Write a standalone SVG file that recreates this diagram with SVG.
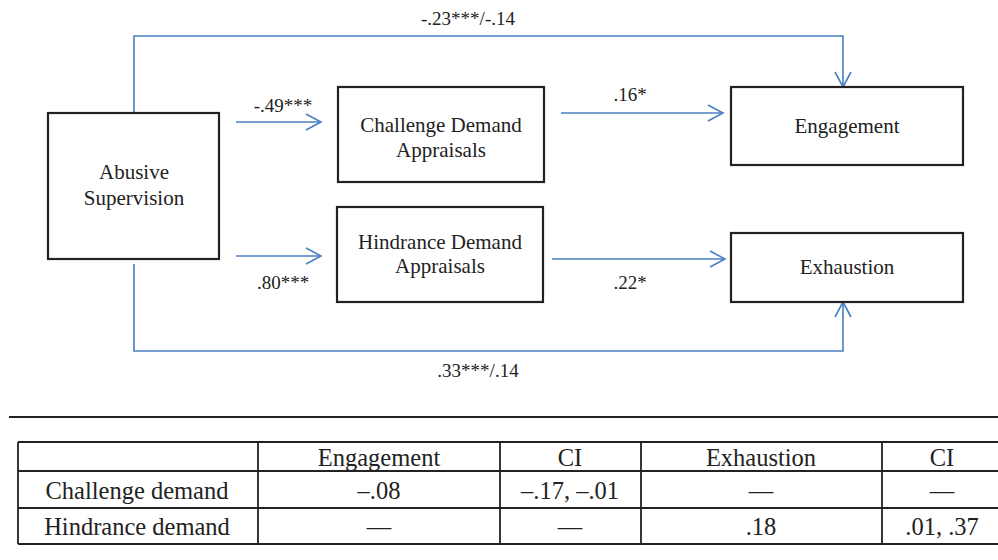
<svg xmlns="http://www.w3.org/2000/svg" width="998" height="560" viewBox="0 0 998 560">
<style>
  .box{fill:#fff;stroke:#222;stroke-width:2.2}
  .nt{font-family:"Liberation Serif","Times New Roman",serif;font-size:21px;fill:#222;text-anchor:middle}
  .lb{font-family:"Liberation Serif","Times New Roman",serif;font-size:19px;fill:#222;text-anchor:middle}
  .cn{fill:none;stroke:#4a7fc1;stroke-width:1.6}
  .tl{stroke:#222;stroke-width:1.8;fill:none}
  .tt{font-family:"Liberation Serif","Times New Roman",serif;font-size:24.5px;fill:#222;text-anchor:middle}
</style>
<defs>
  <marker id="arr" markerUnits="userSpaceOnUse" markerWidth="20" markerHeight="20" refX="16" refY="10" orient="auto">
    <path d="M1,2 L16,10 L1,18" fill="none" stroke="#4a7fc1" stroke-width="1.6"/>
  </marker>
</defs>
<rect width="998" height="560" fill="#fff"/>

<g id="connectors">
  <path class="cn" d="M134,113 V36 H843 V87" marker-end="url(#arr)"/>
  <path class="cn" d="M134,264 V351 H843 V302" marker-end="url(#arr)"/>
  <line class="cn" x1="236" y1="122" x2="321" y2="122" marker-end="url(#arr)"/>
  <line class="cn" x1="561" y1="113" x2="723" y2="113" marker-end="url(#arr)"/>
  <line class="cn" x1="236" y1="256" x2="321" y2="256" marker-end="url(#arr)"/>
  <line class="cn" x1="552" y1="259" x2="725" y2="259" marker-end="url(#arr)"/>
  <text class="lb" x="468" y="25">-.23***/-.14</text>
  <text class="lb" x="283" y="112">-.49***</text>
  <text class="lb" x="630" y="101">.16*</text>
  <text class="lb" x="283" y="289">.80***</text>
  <text class="lb" x="630" y="289">.22*</text>
  <text class="lb" x="478" y="377">.33***/.14</text>
</g>

<g id="abusive">
  <rect class="box" x="48" y="113" width="171" height="146"/>
  <text class="nt" x="134" y="179">Abusive</text>
  <text class="nt" x="134" y="205">Supervision</text>
</g>
<g id="challenge">
  <rect class="box" x="338" y="87" width="206" height="95"/>
  <text class="nt" x="441" y="132">Challenge Demand</text>
  <text class="nt" x="441" y="157">Appraisals</text>
</g>
<g id="hindrance">
  <rect class="box" x="337" y="207" width="206" height="95"/>
  <text class="nt" x="440" y="249">Hindrance Demand</text>
  <text class="nt" x="440" y="273">Appraisals</text>
</g>
<g id="engagement">
  <rect class="box" x="731" y="87" width="232" height="78"/>
  <text class="nt" x="847" y="133">Engagement</text>
</g>
<g id="exhaustion">
  <rect class="box" x="731" y="233" width="232" height="69"/>
  <text class="nt" x="847" y="274">Exhaustion</text>
</g>

<line x1="9" y1="417" x2="998" y2="417" stroke="#222" stroke-width="2"/>

<g id="table">
  <line class="tl" x1="18" y1="442" x2="998" y2="442"/>
  <line class="tl" x1="18" y1="471" x2="998" y2="471"/>
  <line class="tl" x1="18" y1="508" x2="998" y2="508"/>
  <line class="tl" x1="18" y1="544" x2="998" y2="544"/>
  <line class="tl" x1="18" y1="442" x2="18" y2="544"/>
  <line class="tl" x1="258" y1="442" x2="258" y2="544"/>
  <line class="tl" x1="500" y1="442" x2="500" y2="544"/>
  <line class="tl" x1="641" y1="442" x2="641" y2="544"/>
  <line class="tl" x1="882" y1="442" x2="882" y2="544"/>
  <text class="tt" x="379" y="466">Engagement</text>
  <text class="tt" x="570" y="466">CI</text>
  <text class="tt" x="761" y="466">Exhaustion</text>
  <text class="tt" x="942" y="466">CI</text>
  <text class="tt" x="137" y="499">Challenge demand</text>
  <text class="tt" x="379" y="499">–.08</text>
  <text class="tt" x="570" y="499">–.17, –.01</text>
  <text class="tt" x="761" y="499">—</text>
  <text class="tt" x="942" y="499">—</text>
  <text class="tt" x="137" y="535">Hindrance demand</text>
  <text class="tt" x="379" y="535">—</text>
  <text class="tt" x="570" y="535">—</text>
  <text class="tt" x="761" y="535">.18</text>
  <text class="tt" x="942" y="535">.01, .37</text>
</g>
</svg>
